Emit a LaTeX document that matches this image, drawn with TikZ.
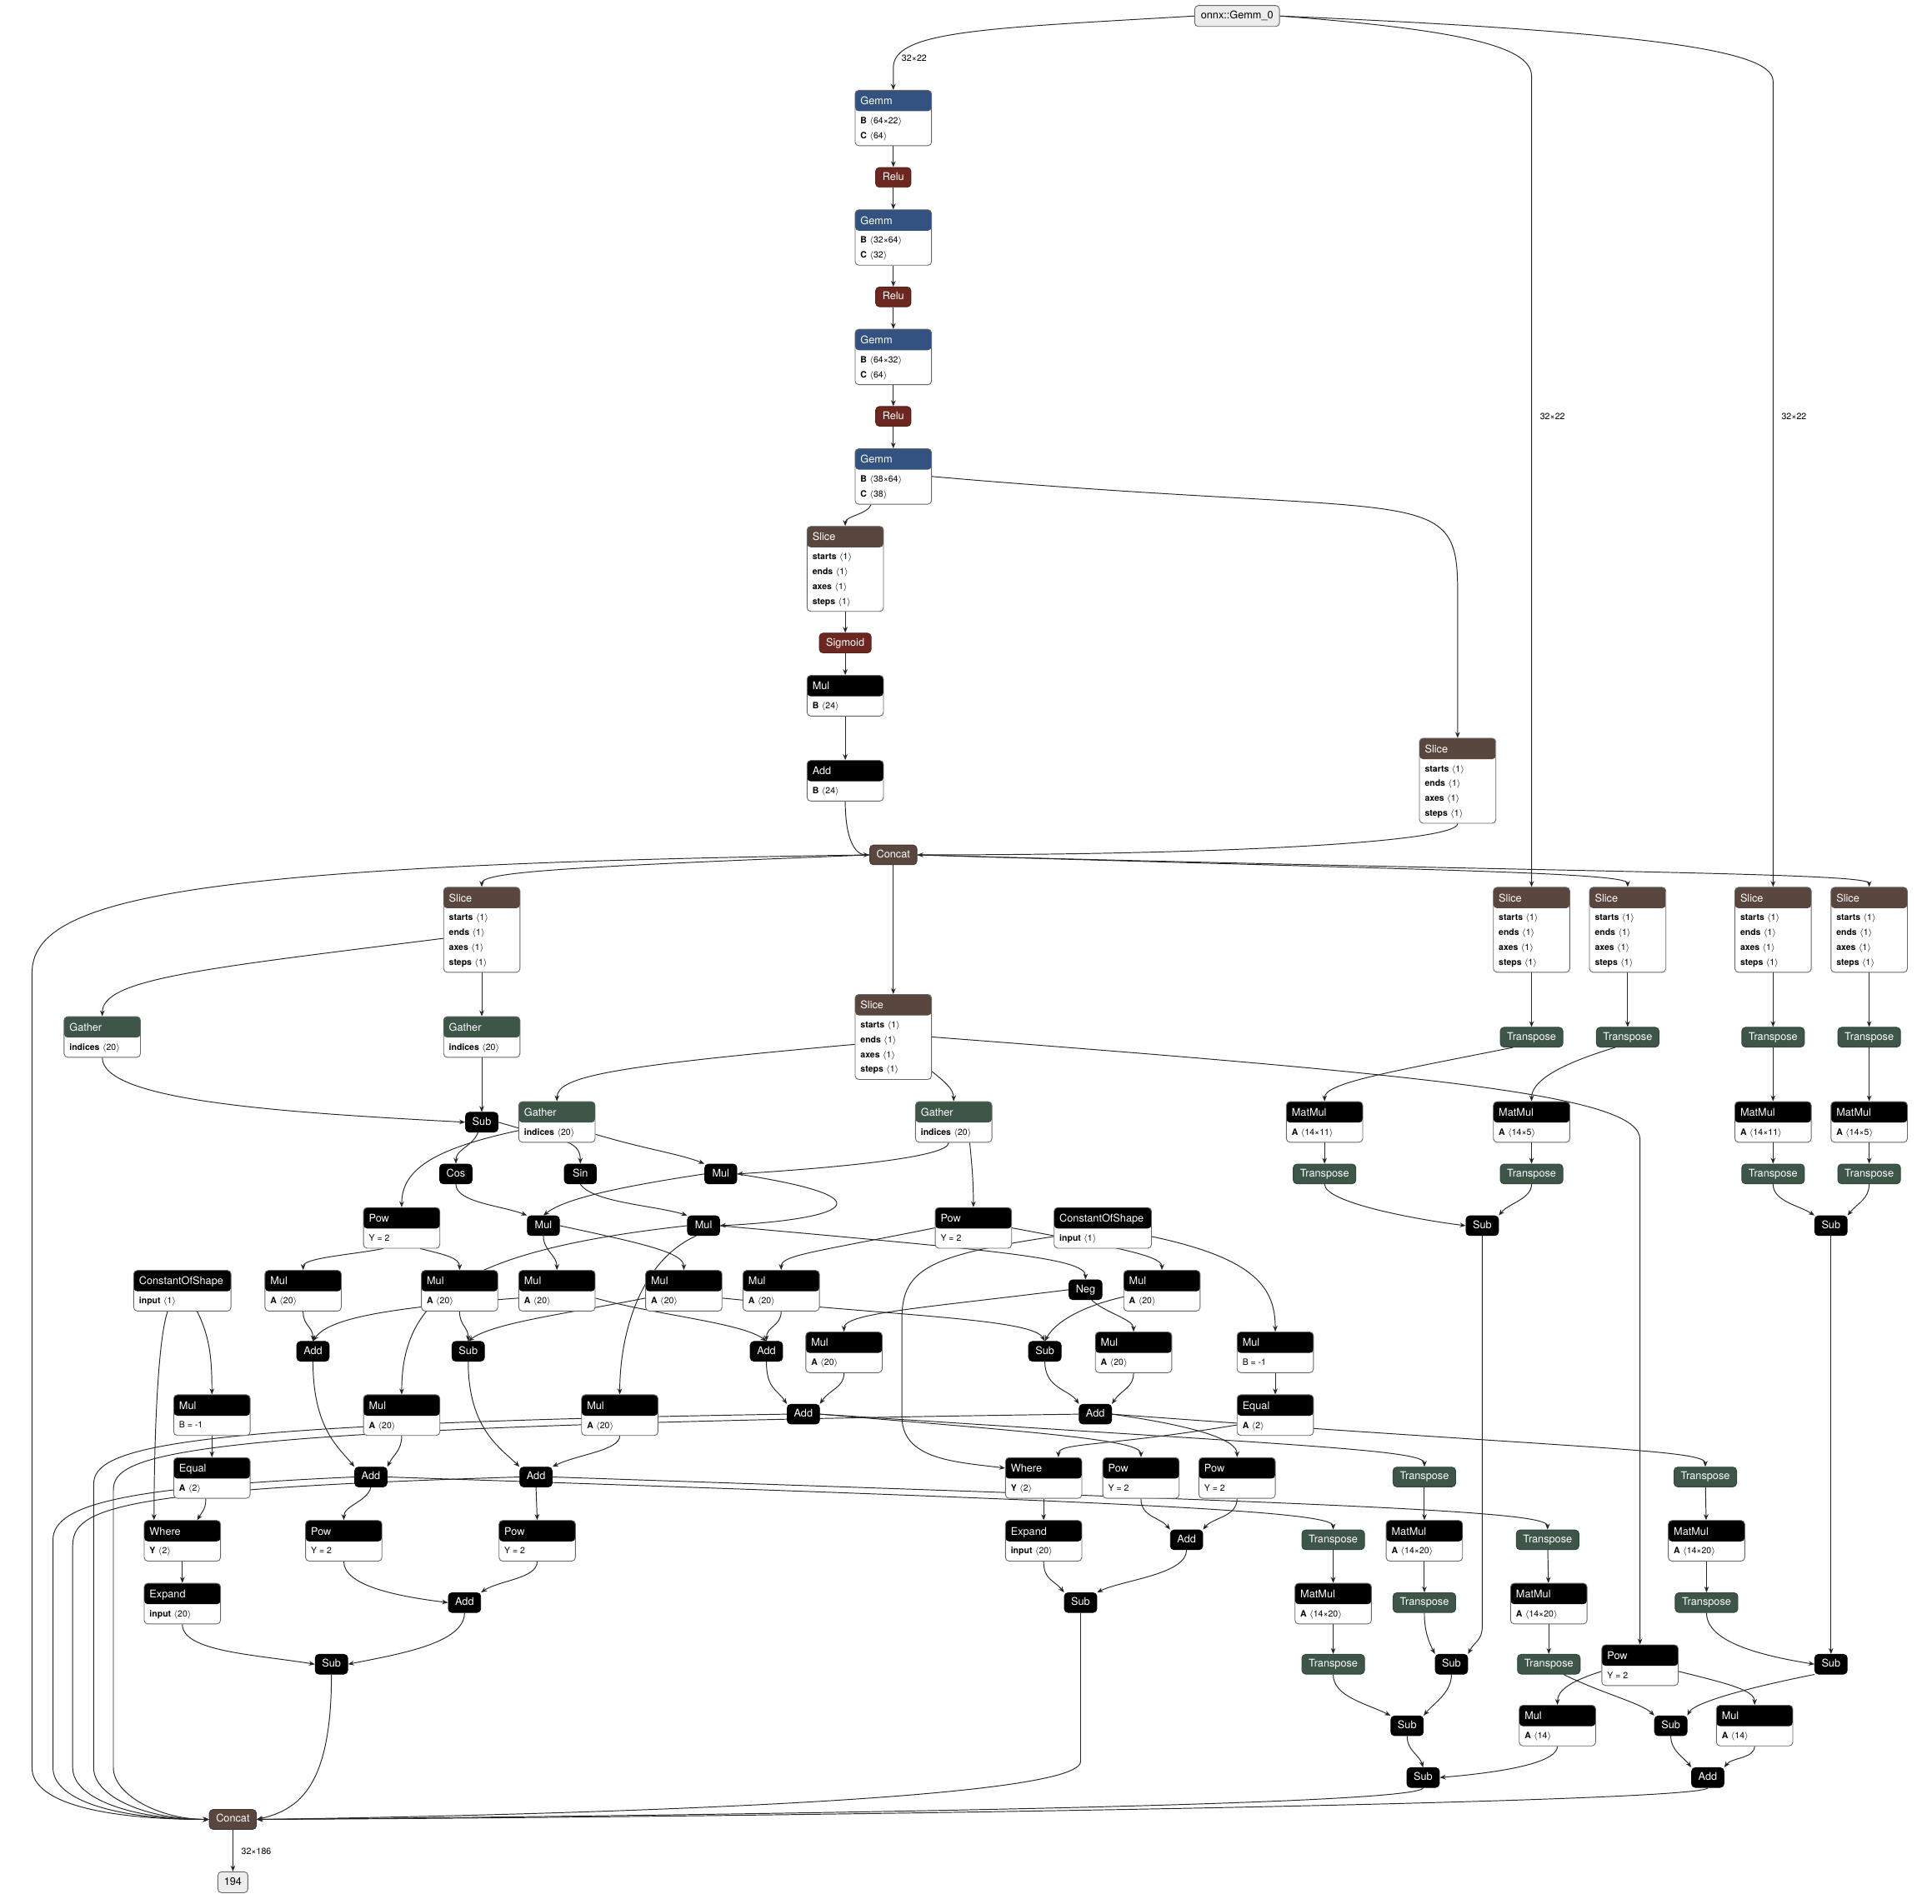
\documentclass[tikz,border=0pt]{standalone}
\usepackage{fontspec}
\setmainfont{TeX Gyre Heros}
\usetikzlibrary{arrows.meta}

\definecolor{cGemm}{RGB}{51,82,128}
\definecolor{cAct}{RGB}{108,39,33}
\definecolor{cShape}{RGB}{89,70,62}
\definecolor{cTrans}{RGB}{61,86,72}

\pgfdeclarelayer{bg}
\pgfsetlayers{bg,main}

\newcommand\hfont{\fontsize{8.6}{10}\selectfont}
\newcommand\afont{\fontsize{7.1}{12}\selectfont}
\newcommand\shp[1]{\hspace{2.2pt}$\langle$#1$\rangle$}
\newcommand\slattr{\textbf{starts}\shp{1}\\\textbf{ends}\shp{1}\\\textbf{axes}\shp{1}\\\textbf{steps}\shp{1}}

% box with coloured header and attribute lines: name, x, top, width, height, colour, title, attributes
\newcommand\opnode[8]{%
  \node[opbox, minimum width=#4pt, minimum height=#5pt, anchor=north,
    path picture={\fill[#6] (path picture bounding box.north west)
      rectangle ([yshift=-17pt]path picture bounding box.north east);}]
    (#1) at (#2,-#3) {};
  \node[htxt, anchor=base west] (#1-h) at ([xshift=4.5pt,yshift=-12pt]#1.north west) {#7};
  \node[atxt, anchor=north west] (#1-a) at ([xshift=4.5pt,yshift=-22pt]#1.north west) {#8};
}
\newcommand\slicen[3]{\opnode{#1}{#2}{#3}{62}{69}{cShape}{Slice}{\slattr}}
\newcommand\gathn[3]{\opnode{#1}{#2}{#3}{62}{33}{cTrans}{Gather}{\textbf{indices}\shp{20}}}
\newcommand\blk[6]{\opnode{#1}{#2}{#3}{62}{33}{black}{#4}{\textbf{#5}\shp{#6}}}
\newcommand\pown[3]{\opnode{#1}{#2}{#3}{62}{33}{black}{Pow}{Y = 2}}

\begin{document}
\begin{tikzpicture}[x=1pt, y=1pt,
    opbox/.style={draw=black!60, line width=0.6pt, rounded corners=3pt, fill=white, inner sep=0pt},
    sop/.style={fill=#1, draw=#1!80!black, line width=0.6pt, rounded corners=3pt, text=white,
      font=\hfont, minimum height=16pt, minimum width=26pt, inner xsep=5.5pt, inner ysep=0pt,
      text height=6.2pt, text depth=1.7pt},
    iob/.style={fill=black!7, draw=black!60, line width=0.6pt, rounded corners=3pt,
      font=\hfont, minimum height=17pt, inner xsep=5pt, inner ysep=0pt,
      text height=6.2pt, text depth=1.7pt},
    htxt/.style={text=white, font=\hfont, inner sep=0pt},
    atxt/.style={font=\afont, align=left, inner sep=0pt},
    elab/.style={font=\fontsize{7.2}{8}\selectfont, inner sep=0pt},
    ed/.style={draw=black!85, line width=0.65pt, -{Stealth[length=4.8pt,width=3.8pt]}}
  ]
  \useasboundingbox (0,0) rectangle (1568,-1545);

  % input and Gemm chain
  \node[iob] (in0) at (1004,-13) {onnx::Gemm\_0};
  \opnode{g1}{725}{73}{62}{45}{cGemm}{Gemm}{\textbf{B}\shp{64×22}\\\textbf{C}\shp{64}}
  \node[sop=cAct] (r1) at (725,-144) {Relu};
  \opnode{g2}{725}{170}{62}{45}{cGemm}{Gemm}{\textbf{B}\shp{32×64}\\\textbf{C}\shp{32}}
  \node[sop=cAct] (r2) at (725,-241) {Relu};
  \opnode{g3}{725}{267}{62}{45}{cGemm}{Gemm}{\textbf{B}\shp{64×32}\\\textbf{C}\shp{64}}
  \node[sop=cAct] (r3) at (725,-338) {Relu};
  \opnode{g4}{725}{364}{62}{45}{cGemm}{Gemm}{\textbf{B}\shp{38×64}\\\textbf{C}\shp{38}}
  \slicen{s1}{686}{427}
  \node[sop=cAct] (sig) at (686,-522) {Sigmoid};
  \blk{mul1}{686}{548}{Mul}{B}{24}
  \blk{add1}{686}{617}{Add}{B}{24}
  \slicen{s2}{1183}{599}
  \node[sop=cShape] (cc1) at (725,-694) {Concat};

  % slices
  \slicen{sA}{391}{720}
  \slicen{sR1}{1243}{720}
  \slicen{sR2}{1321}{720}
  \slicen{sR3}{1439}{720}
  \slicen{sR4}{1517}{720}
  \slicen{sC}{725}{807}

  % gathers, trig part
  \gathn{gL}{83}{825}
  \gathn{gM}{391}{825}
  \gathn{gA}{452}{894}
  \gathn{gB}{774}{894}
  \node[sop=black] (sbG) at (391,-911) {Sub};
  \node[sop=black] (cosN) at (370,-953) {Cos};
  \node[sop=black] (sinN) at (471,-953) {Sin};
  \node[sop=black] (mX) at (585,-953) {Mul};
  \node[sop=black] (mC) at (441,-995) {Mul};
  \node[sop=black] (mS) at (571,-995) {Mul};
  \pown{pw1}{326}{980}
  \pown{pw2}{790}{980}
  \opnode{cs1}{895}{980}{79}{33}{black}{ConstantOfShape}{\textbf{input}\shp{1}}
  \opnode{csL}{148}{1031}{79}{33}{black}{ConstantOfShape}{\textbf{input}\shp{1}}
  \blk{m1}{246}{1031}{Mul}{A}{20}
  \blk{m2}{373}{1031}{Mul}{A}{20}
  \blk{m3}{452}{1031}{Mul}{A}{20}
  \blk{m4}{555}{1031}{Mul}{A}{20}
  \blk{m5}{634}{1031}{Mul}{A}{20}
  \blk{m6}{943}{1031}{Mul}{A}{20}
  \node[sop=black] (neg) at (881,-1047) {Neg};
  \node[sop=black] (ad1) at (254,-1097) {Add};
  \node[sop=black] (sb1) at (380,-1097) {Sub};
  \node[sop=black] (ad2) at (622,-1097) {Add};
  \node[sop=black] (sb2) at (848,-1097) {Sub};
  \blk{m7}{685}{1081}{Mul}{A}{20}
  \blk{m8}{920}{1081}{Mul}{A}{20}
  \opnode{mbR}{1035}{1081}{62}{33}{black}{Mul}{B = -1}
  \opnode{mbL}{172}{1132}{62}{33}{black}{Mul}{B = -1}
  \blk{m9}{326}{1132}{Mul}{A}{20}
  \blk{m10}{503}{1132}{Mul}{A}{20}
  \blk{eqR}{1035}{1132}{Equal}{A}{2}
  \node[sop=black] (ad3) at (652,-1148) {Add};
  \node[sop=black] (ad4) at (889,-1148) {Add};
  \blk{eqL}{172}{1183}{Equal}{A}{2}
  \blk{whR}{847}{1183}{Where}{Y}{2}
  \pown{pR1}{926}{1183}
  \pown{pR2}{1004}{1183}
  \node[sop=black] (ad5) at (301,-1199) {Add};
  \node[sop=black] (ad6) at (435,-1199) {Add};
  \blk{whL}{148}{1234}{Where}{Y}{2}
  \pown{pL1}{279}{1234}
  \pown{pL2}{436}{1234}
  \blk{exR}{847}{1234}{Expand}{input}{20}
  \node[sop=black] (ad7) at (963,-1250) {Add};
  \blk{exL}{148}{1285}{Expand}{input}{20}
  \node[sop=black] (ad8) at (377,-1301) {Add};
  \node[sop=black] (sb3) at (877,-1301) {Sub};
  \node[sop=black] (sb4) at (269,-1351) {Sub};

  % matrix part on the right
  \node[sop=cTrans] (tA) at (1243,-842) {Transpose};
  \node[sop=cTrans] (tB) at (1321,-842) {Transpose};
  \node[sop=cTrans] (tC) at (1439,-842) {Transpose};
  \node[sop=cTrans] (tD) at (1517,-842) {Transpose};
  \blk{mmA}{1075}{894}{MatMul}{A}{14×11}
  \blk{mmB}{1243}{894}{MatMul}{A}{14×5}
  \blk{mmC}{1439}{894}{MatMul}{A}{14×11}
  \blk{mmD}{1517}{894}{MatMul}{A}{14×5}
  \node[sop=cTrans] (tA2) at (1075,-953) {Transpose};
  \node[sop=cTrans] (tB2) at (1243,-953) {Transpose};
  \node[sop=cTrans] (tC2) at (1439,-953) {Transpose};
  \node[sop=cTrans] (tD2) at (1517,-953) {Transpose};
  \node[sop=black] (sbR1) at (1203,-995) {Sub};
  \node[sop=black] (sbR2) at (1486,-995) {Sub};
  \node[sop=cTrans] (tE) at (1156,-1199) {Transpose};
  \node[sop=cTrans] (tF) at (1384,-1199) {Transpose};
  \node[sop=cTrans] (tG) at (1082,-1250) {Transpose};
  \node[sop=cTrans] (tH) at (1256,-1250) {Transpose};
  \blk{mmE}{1156}{1234}{MatMul}{A}{14×20}
  \blk{mmF}{1385}{1234}{MatMul}{A}{14×20}
  \blk{mmG}{1082}{1285}{MatMul}{A}{14×20}
  \blk{mmH}{1257}{1285}{MatMul}{A}{14×20}
  \node[sop=cTrans] (tE2) at (1156,-1301) {Transpose};
  \node[sop=cTrans] (tF2) at (1385,-1301) {Transpose};
  \node[sop=cTrans] (tG2) at (1082,-1351) {Transpose};
  \node[sop=black] (sb5) at (1178,-1351) {Sub};
  \node[sop=cTrans] (tH2) at (1257,-1351) {Transpose};
  \node[sop=black] (sb6) at (1486,-1351) {Sub};
  \pown{pP}{1331}{1335}
  \blk{mq1}{1264}{1384}{Mul}{A}{14}
  \blk{mq2}{1424}{1384}{Mul}{A}{14}
  \node[sop=black] (sb7) at (1142,-1401) {Sub};
  \node[sop=black] (sb8) at (1356,-1401) {Sub};
  \node[sop=black] (sb9) at (1155,-1443) {Sub};
  \node[sop=black] (ad9) at (1386,-1443) {Add};

  % output
  \node[sop=cShape] (ccF) at (189,-1477) {Concat};
  \node[iob] (out194) at (189,-1528) {194};

  % edge labels
  \node[elab] (l1) at (742,-47) {32×22};
  \node[elab] (l2) at (1260,-338) {32×22};
  \node[elab] (l3) at (1456,-338) {32×22};
  \node[elab] (l4) at (208,-1503) {32×186};

  \begin{pgfonlayer}{bg}
  % top
  \draw[ed] (in0.west) .. controls +(-170,-10) and +(0,30) .. (725,-55) -- (g1.north);
  \draw[ed] (in0.east) .. controls +(160,-12) and +(0,22) .. (1243,-62) -- (sR1.north);
  \draw[ed] (in0.east) .. controls +(330,-14) and +(0,22) .. (1439,-66) -- (sR3.north);
  \draw[ed] (g1) -- (r1);
  \draw[ed] (r1) -- (g2);
  \draw[ed] (g2) -- (r2);
  \draw[ed] (r2) -- (g3);
  \draw[ed] (g3) -- (r3);
  \draw[ed] (r3) -- (g4);
  \draw[ed] ([xshift=-18pt]g4.south) .. controls +(-3,-8) and +(0,8) .. (s1.north);
  \draw[ed] (g4.east) .. controls +(400,-35) and +(0,90) .. (1183,-480) -- (s2.north);
  \draw[ed] (s1) -- (sig);
  \draw[ed] (sig) -- (mul1);
  \draw[ed] (mul1) -- (add1);
  \draw[ed] (add1.south) .. controls +(0,-30) and +(-12,0) .. (cc1.west);
  \draw[ed] (s2.south) .. controls +(0,-15) and +(250,0) .. (cc1.east);

  % concat fan out
  \draw[ed] (cc1.west) .. controls +(-560,-8) and +(0,60) .. (26,-790) -- (26,-1435)
    .. controls +(0,-30) and +(-80,0) .. (ccF.west);
  \draw[ed] (cc1.west) .. controls +(-250,-10) and +(0,12) .. (sA.north);
  \draw[ed] (cc1) -- (sC);
  \draw[ed] (cc1.east) .. controls +(400,-12) and +(0,12) .. (sR2.north);
  \draw[ed] (cc1.east) .. controls +(500,-14) and +(0,12) .. (sR4.north);

  % gathers and trig
  \draw[ed] ([yshift=-7pt]sA.west) .. controls +(-200,-25) and +(0,30) .. (gL.north);
  \draw[ed] (sA) -- (gM);
  \draw[ed] (gL.south) .. controls +(0,-35) and +(-150,8) .. (sbG.west);
  \draw[ed] (gM) -- (sbG);
  \draw[ed] ([yshift=-6pt]sC.west) .. controls +(-200,-18) and +(0,20) .. (gA.north);
  \draw[ed] ([yshift=-28pt]sC.east) .. controls +(10,-8) and +(0,10) .. (gB.north);
  \draw[ed] (sC.east) .. controls +(420,-32) and +(0,35) .. (1331,-925) -- (pP.north);
  \draw[ed] ([xshift=-3pt]sbG.south) .. controls +(-5,-12) and +(0,12) .. (cosN.north);
  \draw[ed] (sbG.east) .. controls +(50,-15) and +(0,20) .. (sinN.north);
  \draw[ed] ([yshift=-7pt]gA.west) .. controls +(-70,-15) and +(0,30) .. (pw1.north);
  \draw[ed] ([yshift=-10pt]gA.east) .. controls +(40,-12) and +(-20,8) .. (mX.north west);
  \draw[ed] ([xshift=-4pt]gB.south) .. controls +(0,-12) and +(80,5) .. (mX.east);
  \draw[ed] ([xshift=13pt]gB.south) .. controls +(2,-20) and +(0,20) .. (pw2.north);
  \draw[ed] (cosN.south) .. controls +(0,-15) and +(-20,8) .. (mC.north west);
  \draw[ed] (sinN.south) .. controls +(10,-15) and +(-25,8) .. (mS.north west);
  \draw[ed] (mX.west) .. controls +(-80,-12) and +(15,12) .. (mC.north);
  \draw[ed] (mX.east) .. controls +(130,-20) and +(100,5) .. (mS.east);

  % products
  \draw[ed] ([xshift=-15pt]pw1.south) .. controls +(-25,-5) and +(0,10) .. (m1.north);
  \draw[ed] ([xshift=15pt]pw1.south) .. controls +(20,-5) and +(0,10) .. (m2.north);
  \draw[ed] (pw2.west) .. controls +(-100,-20) and +(0,12) .. (m5.north);
  \draw[ed] (pw2.east) .. controls +(80,-15) and +(0,12) .. (m6.north);
  \draw[ed] (mC.south) .. controls +(0,-12) and +(0,12) .. (m3.north);
  \draw[ed] (mC.east) .. controls +(70,-15) and +(0,14) .. (m4.north);
  \draw[ed] (mS.west) .. controls +(-180,-20) and +(0,80) .. (m9.north);
  \draw[ed] ([xshift=-6pt]mS.south) .. controls +(-45,-20) and +(0,50) .. (m10.north);
  \draw[ed] (mS.east) .. controls +(220,-20) and +(0,18) .. (neg.north);
  \draw[ed] (neg.west) .. controls +(-120,-15) and +(0,15) .. (m7.north);
  \draw[ed] ([xshift=5pt]neg.south) .. controls +(10,-10) and +(0,10) .. (m8.north);

  % sums
  \draw[ed] (m1.south) .. controls +(0,-12) and +(0,12) .. (ad1.north);
  \draw[ed] ([yshift=-6pt]m3.west) .. controls +(-110,-8) and +(12,18) .. (ad1.north);
  \draw[ed] (m2.south) .. controls +(0,-12) and +(0,12) .. (sb1.north);
  \draw[ed] ([yshift=-6pt]m4.west) .. controls +(-60,-12) and +(20,15) .. (sb1.north);
  \draw[ed] ([yshift=-6pt]m3.east) .. controls +(50,-14) and +(-20,15) .. (ad2.north);
  \draw[ed] (m5.south) .. controls +(0,-12) and +(0,12) .. (ad2.north);
  \draw[ed] ([yshift=-6pt]m4.east) .. controls +(150,-15) and +(-10,18) .. (sb2.north);
  \draw[ed] ([yshift=-5pt]m6.west) .. controls +(-35,-8) and +(8,15) .. (sb2.north);
  \draw[ed] (ad2.south) .. controls +(0,-22) and +(-8,12) .. (ad3.north west);
  \draw[ed] (m7.south) .. controls +(0,-12) and +(8,12) .. (ad3.north east);
  \draw[ed] (sb2.south) .. controls +(0,-22) and +(-8,12) .. (ad4.north west);
  \draw[ed] (m8.south) .. controls +(0,-12) and +(8,12) .. (ad4.north east);
  \draw[ed] (ad1.south) .. controls +(0,-55) and +(-12,15) .. (ad5.north west);
  \draw[ed] (m9.south) .. controls +(0,-12) and +(5,10) .. (ad5.north east);
  \draw[ed] (sb1.south) .. controls +(0,-55) and +(-15,15) .. (ad6.north west);
  \draw[ed] (m10.south) .. controls +(0,-12) and +(20,10) .. (ad6.north east);

  % left where branch
  \draw[ed] ([xshift=-12pt]csL.south) .. controls +(-10,-30) and +(0,30) .. ([xshift=-23pt]whL.north);
  \draw[ed] ([xshift=12pt]csL.south) .. controls +(10,-20) and +(0,30) .. (mbL.north);
  \draw[ed] (mbL) -- (eqL);
  \draw[ed] ([xshift=-5pt]eqL.south) .. controls +(0,-8) and +(5,8) .. ([xshift=12pt]whL.north);
  \draw[ed] (whL) -- (exL);
  \draw[ed] (ad5.south) .. controls +(-3,-12) and +(0,12) .. (pL1.north);
  \draw[ed] (ad6.south) -- (pL2.north);
  \draw[ed] (pL1.south) .. controls +(0,-20) and +(-40,5) .. (ad8.west);
  \draw[ed] (pL2.south) .. controls +(0,-14) and +(15,10) .. (ad8.north east);
  \draw[ed] (exL.south) .. controls +(0,-22) and +(-50,8) .. (sb4.west);
  \draw[ed] (ad8.south) .. controls +(0,-25) and +(40,8) .. (sb4.east);

  % right where branch
  \draw[ed] ([yshift=-7pt]cs1.west) .. controls +(-100,-15) and +(0,40) .. (732,-1070) -- (732,-1150)
    .. controls +(0,-35) and +(-40,5) .. ([yshift=8pt]whR.west);
  \draw[ed] ([yshift=-7pt]cs1.east) .. controls +(85,-18) and +(0,35) .. (mbR.north);
  \draw[ed] (mbR) -- (eqR);
  \draw[ed] ([yshift=-8pt]eqR.west) .. controls +(-110,-18) and +(0,12) .. ([xshift=12pt]whR.north);
  \draw[ed] (whR) -- (exR);
  \draw[ed] (ad3.east) .. controls +(180,-15) and +(0,14) .. (pR1.north);
  \draw[ed] (ad4.east) .. controls +(70,-10) and +(0,14) .. (pR2.north);
  \draw[ed] (pR1.south) .. controls +(0,-15) and +(-8,10) .. (ad7.north west);
  \draw[ed] (pR2.south) .. controls +(0,-15) and +(8,10) .. (ad7.north east);
  \draw[ed] (exR.south) .. controls +(0,-15) and +(-8,10) .. (sb3.north west);
  \draw[ed] (ad7.south) .. controls +(0,-20) and +(20,10) .. (sb3.north east);

  % to the transposes
  \draw[ed] (ad3.east) .. controls +(380,-25) and +(0,14) .. (tE.north);
  \draw[ed] (ad4.east) .. controls +(380,-28) and +(0,14) .. (tF.north);
  \draw[ed] (ad5.east) .. controls +(600,-20) and +(0,15) .. (tG.north);
  \draw[ed] (ad6.east) .. controls +(650,-22) and +(0,15) .. (tH.north);

  % matrix part
  \draw[ed] (sR1) -- (tA);
  \draw[ed] (sR2) -- (tB);
  \draw[ed] (sR3) -- (tC);
  \draw[ed] (sR4) -- (tD);
  \draw[ed] ([xshift=-15pt]tA.south) .. controls +(-100,-20) and +(0,15) .. (mmA.north);
  \draw[ed] ([xshift=-10pt]tB.south) .. controls +(-50,-15) and +(0,15) .. (mmB.north);
  \draw[ed] (tC) -- (mmC);
  \draw[ed] (tD) -- (mmD);
  \draw[ed] (mmA) -- (tA2);
  \draw[ed] (mmB) -- (tB2);
  \draw[ed] (mmC) -- (tC2);
  \draw[ed] (mmD) -- (tD2);
  \draw[ed] (tA2.south) .. controls +(0,-15) and +(-40,5) .. (sbR1.west);
  \draw[ed] (tB2.south) .. controls +(0,-12) and +(8,10) .. (sbR1.north east);
  \draw[ed] (tC2.south) .. controls +(0,-14) and +(-12,8) .. (sbR2.north west);
  \draw[ed] (tD2.south) .. controls +(0,-12) and +(8,10) .. (sbR2.north east);
  \draw[ed] (sbR1.south) -- (1203,-1320) .. controls +(0,-12) and +(5,10) .. (sb5.north east);
  \draw[ed] (sbR2) -- (sb6);
  \draw[ed] (tE) -- (mmE);
  \draw[ed] (mmE) -- (tE2);
  \draw[ed] (tF) -- (mmF);
  \draw[ed] (mmF) -- (tF2);
  \draw[ed] (tG) -- (mmG);
  \draw[ed] (mmG) -- (tG2);
  \draw[ed] (tH) -- (mmH);
  \draw[ed] (mmH) -- (tH2);
  \draw[ed] (tE2.south) .. controls +(0,-15) and +(-5,10) .. (sb5.north west);
  \draw[ed] (tF2.south) .. controls +(0,-22) and +(-50,8) .. (sb6.west);
  \draw[ed] (tG2.south) .. controls +(0,-18) and +(-20,10) .. (sb7.north west);
  \draw[ed] (sb5.south) .. controls +(0,-15) and +(8,10) .. (sb7.north east);
  \draw[ed] ([xshift=12pt]tH2.south) .. controls +(30,-15) and +(-10,10) .. (sb8.north west);
  \draw[ed] (sb6.south west) .. controls +(-60,-12) and +(5,10) .. (sb8.north east);
  \draw[ed] ([yshift=-5pt]pP.west) .. controls +(-25,-8) and +(0,12) .. (mq1.north);
  \draw[ed] ([yshift=-5pt]pP.east) .. controls +(40,-10) and +(0,12) .. (mq2.north);
  \draw[ed] (sb7.south) .. controls +(0,-12) and +(-3,10) .. (sb9.north);
  \draw[ed] (mq1.south) .. controls +(0,-12) and +(60,5) .. (sb9.east);
  \draw[ed] (sb8.south) .. controls +(0,-12) and +(-6,8) .. (ad9.north west);
  \draw[ed] (mq2.south) .. controls +(0,-10) and +(6,8) .. (ad9.north east);

  % into the final concat
  \draw[ed] (ad5.west) .. controls +(-180,-8) and +(0,30) .. (43,-1250) -- (43,-1435)
    .. controls +(0,-28) and +(-70,0) .. (ccF.west);
  \draw[ed] (ad6.west) .. controls +(-330,-10) and +(0,30) .. (59,-1255) -- (59,-1435)
    .. controls +(0,-26) and +(-60,0) .. (ccF.west);
  \draw[ed] (ad3.west) .. controls +(-500,-8) and +(0,30) .. (76,-1205) -- (76,-1435)
    .. controls +(0,-24) and +(-50,0) .. (ccF.west);
  \draw[ed] (ad4.west) .. controls +(-740,-10) and +(0,30) .. (92,-1210) -- (92,-1435)
    .. controls +(0,-22) and +(-40,0) .. (ccF.west);
  \draw[ed] (sb4.south) .. controls +(0,-90) and +(35,8) .. (ccF.east);
  \draw[ed] (sb3.south) -- (877,-1430) .. controls +(0,-35) and +(150,2) .. (ccF.east);
  \draw[ed] (sb9.south) .. controls +(0,-15) and +(350,3) .. (ccF.east);
  \draw[ed] (ad9.south) .. controls +(0,-12) and +(450,2) .. (ccF.east);
  \draw[ed] (ccF) -- (out194);
  \end{pgfonlayer}

\end{tikzpicture}
\end{document}
